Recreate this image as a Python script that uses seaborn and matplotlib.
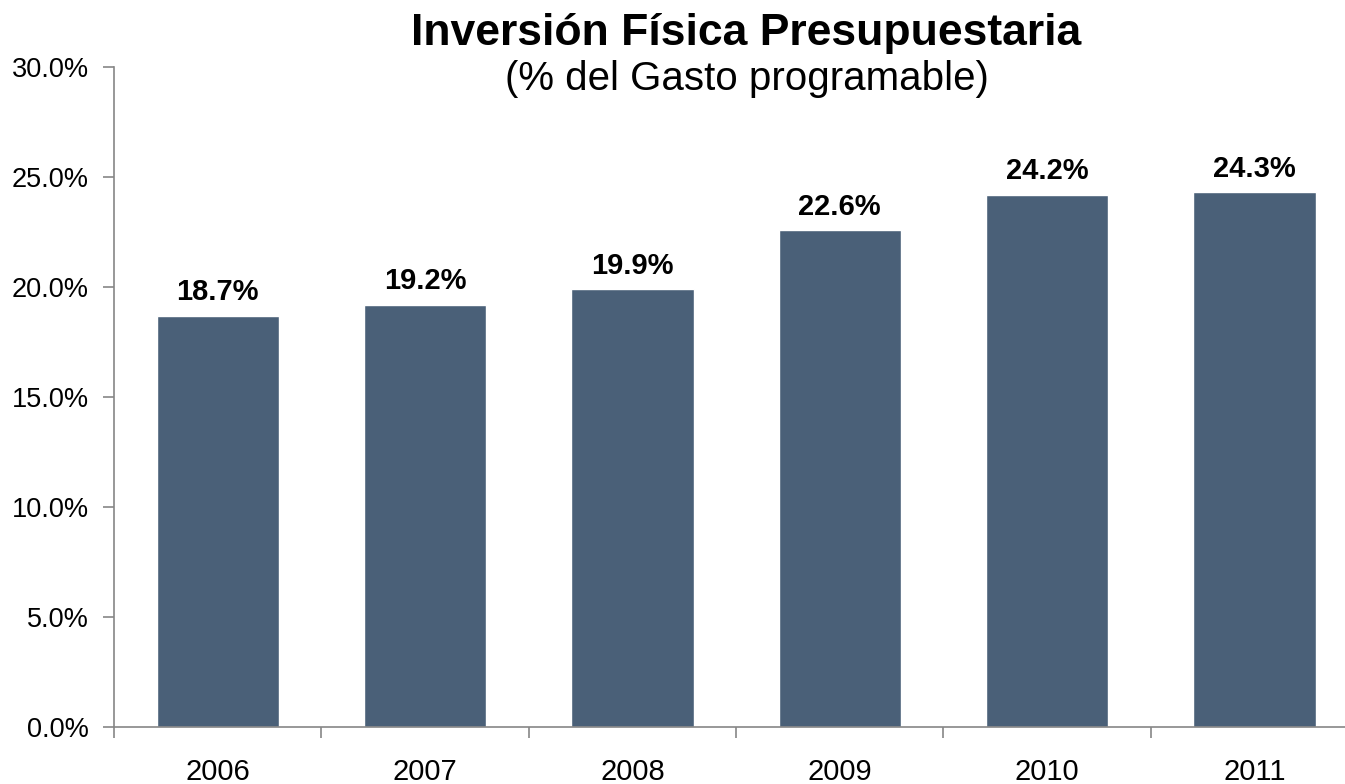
import numpy as np
import pandas as pd
import seaborn as sns
import matplotlib.pyplot as plt
from matplotlib.ticker import FixedLocator, PercentFormatter

# data
years = ["2006", "2007", "2008", "2009", "2010", "2011"]
values = [18.7, 19.2, 19.9, 22.6, 24.2, 24.3]

df = pd.DataFrame({"year": years, "pct": values})

sns.set_style("white")
plt.rcParams['font.family'] = ['Liberation Sans', 'DejaVu Sans']
plt.rcParams['text.color'] = 'black'
plt.rcParams['xtick.color'] = 'black'
plt.rcParams['ytick.color'] = 'black'

fig = plt.figure(figsize=(13.45, 7.84), dpi=100)
ax = fig.add_axes([0.0848, 0.0727, 0.925, 0.8418])

sns.barplot(data=df, x="year", y="pct", color="#4a6078", saturation=1,
            width=0.59, ax=ax)

# value labels on top of bars
for i, v in enumerate(values):
    ax.annotate(f"{v:.1f}%", (i, v), xytext=(0, 11), textcoords="offset points",
                ha="center", va="baseline", fontsize=21, fontweight="bold", color="black")

ax.set_xlim(-0.5, 5.5)
ax.set_ylim(0, 30)
ax.set_yticks(np.arange(0, 31, 5))
ax.yaxis.set_major_formatter(PercentFormatter(decimals=1))
ax.set_xlabel("")
ax.set_ylabel("")

# ticks between categories on the x axis
ax.xaxis.set_minor_locator(FixedLocator(np.arange(-0.5, 6, 1)))
ax.tick_params(axis="x", which="major", length=0, labelsize=21, pad=22, labelcolor="black")
ax.tick_params(axis="x", which="minor", bottom=True, length=8, width=1.2,
               color="#868686", direction="out")
ax.tick_params(axis="y", left=True, length=8, width=1.2, color="#868686", direction="out",
               labelsize=19.5, pad=10, labelcolor="black")

sns.despine(ax=ax, top=True, right=True)
for s in ["left", "bottom"]:
    ax.spines[s].set_color("#868686")
    ax.spines[s].set_linewidth(1.2)

fig.text(0.555, 0.943, "Inversión Física Presupuestaria", ha="center", va="baseline",
         fontsize=32, fontweight="bold", color="black")
fig.text(0.555, 0.885, "(% del Gasto programable)", ha="center", va="baseline",
         fontsize=29, color="black")

fig.savefig("out.png", dpi=100)
